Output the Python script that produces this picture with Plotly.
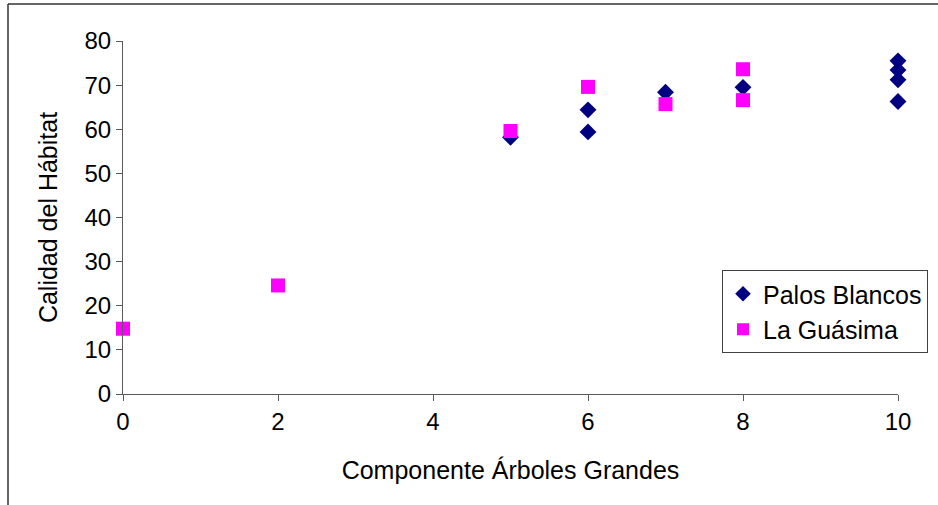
import plotly.graph_objects as go

pb_x = [5, 6, 6, 7, 8, 10, 10, 10, 10]
pb_y = [58.2, 64.4, 59.4, 68.4, 69.5, 75.5, 73.4, 71.2, 66.3]
lg_x = [0, 2, 5, 6, 7, 8, 8]
lg_y = [14.8, 24.6, 59.6, 69.6, 65.7, 73.6, 66.6]

FONT = "Liberation Sans, Arial, sans-serif"

fig = go.Figure()
fig.add_trace(go.Scatter(x=pb_x, y=pb_y, mode="markers", name="Palos Blancos",
                         marker=dict(symbol="diamond", size=13, color="#000080"),
                         cliponaxis=False))
fig.add_trace(go.Scatter(x=lg_x, y=lg_y, mode="markers", name="La Guásima",
                         marker=dict(symbol="square", size=14, color="#FF00FF"),
                         cliponaxis=False))

L, R, T, B = 123, 40, 41, 111
W, H = 938, 505
pw, ph = W - L - R, H - T - B

def px(x):
    return (x - L) / pw

def py(y):
    return (H - B - y) / ph

fig.update_layout(
    width=W, height=H,
    margin=dict(l=L, r=R, t=T, b=B, autoexpand=False),
    paper_bgcolor="white", plot_bgcolor="white",
    font=dict(family=FONT, size=24, color="black"),
    showlegend=True,
    legend=dict(x=px(722), y=py(270), xanchor="left", yanchor="top",
                bordercolor="#404040", borderwidth=1, bgcolor="white",
                font=dict(size=25), itemsizing="constant"),
    xaxis=dict(range=[0, 10], dtick=2, showgrid=False, zeroline=False,
               showline=True, linecolor="#5a5a5a", linewidth=1,
               ticks="outside", ticklen=6, tickcolor="#5a5a5a",
               tickfont=dict(size=24),
               title=dict(text="Componente Árboles Grandes", font=dict(size=25), standoff=27)),
    yaxis=dict(range=[0, 80], dtick=10, showgrid=False, zeroline=False,
               showline=True, linecolor="#5a5a5a", linewidth=1,
               ticks="outside", ticklen=6, tickcolor="#5a5a5a",
               tickfont=dict(size=24),
               title=dict(text="Calidad del Hábitat", font=dict(size=25), standoff=19)),
    shapes=[
        dict(type="line", xref="paper", yref="paper", x0=px(8), x1=px(940), y0=py(4), y1=py(4),
             line=dict(color="#333333", width=1.5)),
        dict(type="line", xref="paper", yref="paper", x0=px(8), x1=px(8), y0=py(4), y1=py(510),
             line=dict(color="#333333", width=1.5)),
    ],
)

fig.write_html("out.html", config={"displayModeBar": False},
               post_script="document.body.style.margin='0';document.body.style.overflow='hidden';")
